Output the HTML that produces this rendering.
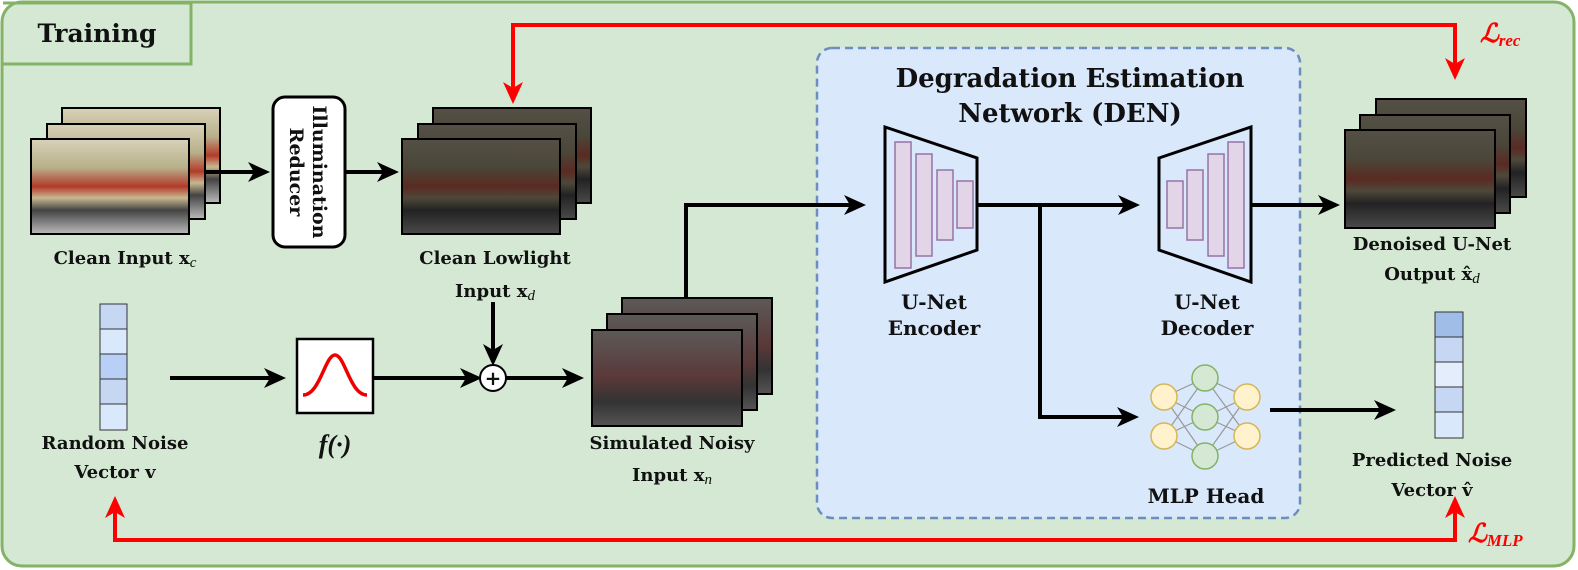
<!DOCTYPE html>
<html><head><meta charset="utf-8"><style>
html,body{margin:0;padding:0;background:#fff;}
svg{display:block}
text{font-family:"DejaVu Serif","Liberation Serif",serif;font-weight:bold;fill:#111;}
.m{font-family:"Liberation Serif",serif;}
</style></head><body>
<svg width="1578" height="570" viewBox="0 0 1578 570" xmlns="http://www.w3.org/2000/svg">
<defs>
<marker id="ab" markerWidth="22" markerHeight="22" refX="18" refY="11" orient="auto" markerUnits="userSpaceOnUse" viewBox="0 0 22 22"><path d="M0,1 L22,11 L0,21 L6,11 Z" fill="#000"/></marker>
<marker id="ar" markerWidth="22" markerHeight="22" refX="18" refY="11" orient="auto" markerUnits="userSpaceOnUse" viewBox="0 0 22 22"><path d="M0,1 L22,11 L0,21 L6,11 Z" fill="#f00"/></marker>
<linearGradient id="img" x1="0" y1="0" x2="0" y2="1">
<stop offset="0" stop-color="#d8d2b8"/><stop offset="0.3" stop-color="#b8b08a"/><stop offset="0.5" stop-color="#b33a2a"/><stop offset="0.62" stop-color="#c8b890"/><stop offset="0.75" stop-color="#444"/><stop offset="1" stop-color="#bbb"/></linearGradient>
<linearGradient id="imgd" x1="0" y1="0" x2="0" y2="1">
<stop offset="0" stop-color="#555046"/><stop offset="0.3" stop-color="#4a4638"/><stop offset="0.5" stop-color="#5a2a22"/><stop offset="0.62" stop-color="#4e483a"/><stop offset="0.75" stop-color="#222"/><stop offset="1" stop-color="#4a4a4a"/></linearGradient>
<linearGradient id="imgn" x1="0" y1="0" x2="0" y2="1">
<stop offset="0" stop-color="#5c5a58"/><stop offset="0.5" stop-color="#5a3838"/><stop offset="0.75" stop-color="#333"/><stop offset="1" stop-color="#555"/></linearGradient>
</defs>
<rect x="2" y="2" width="1572" height="564" rx="20" fill="#d5e8d4" stroke="#82b366" stroke-width="3"/>
<path d="M3,3 H191 V64 H3" fill="none" stroke="#82b366" stroke-width="3"/>
<text x="97" y="42" font-size="25" text-anchor="middle">Training</text>

<rect x="817" y="48" width="483" height="470" rx="15" fill="#dae8fc" stroke="#6c8ebf" stroke-width="2.5" stroke-dasharray="8,5"/>
<text x="1070" y="87" font-size="26" text-anchor="middle">Degradation Estimation</text>
<text x="1070" y="122" font-size="26" text-anchor="middle">Network (DEN)</text>

<g stroke="#000" stroke-width="2">
<rect x="62" y="108" width="158" height="95" fill="url(#img)"/>
<rect x="47" y="124" width="158" height="95" fill="url(#img)"/>
<rect x="31" y="139" width="158" height="95" fill="url(#img)"/>
<rect x="433" y="108" width="158" height="95" fill="url(#imgd)"/>
<rect x="418" y="124" width="158" height="95" fill="url(#imgd)"/>
<rect x="402" y="139" width="158" height="95" fill="url(#imgd)"/>
<rect x="1376" y="99" width="150" height="98" fill="url(#imgd)"/>
<rect x="1360" y="115" width="150" height="98" fill="url(#imgd)"/>
<rect x="1345" y="130" width="150" height="98" fill="url(#imgd)"/>
<rect x="622" y="298" width="150" height="96" fill="url(#imgn)"/>
<rect x="607" y="314" width="150" height="96" fill="url(#imgn)"/>
<rect x="592" y="330" width="150" height="96" fill="url(#imgn)"/>
</g>
<text x="125" y="264" font-size="18" text-anchor="middle">Clean Input x<tspan class="m" font-style="italic" font-weight="normal" font-size="15" dy="3">c</tspan></text>
<text x="495" y="264" font-size="18" text-anchor="middle">Clean Lowlight</text>
<text x="495" y="297" font-size="18" text-anchor="middle">Input x<tspan class="m" font-style="italic" font-weight="normal" font-size="15" dy="3">d</tspan></text>

<rect x="273" y="97" width="72" height="150" rx="12" fill="#fff" stroke="#000" stroke-width="3"/>
<text transform="translate(313,172) rotate(90)" font-size="19" text-anchor="middle">Illumination</text>
<text transform="translate(290,172) rotate(90)" font-size="19" text-anchor="middle">Reducer</text>
<g stroke="#000" stroke-width="4" fill="none" marker-end="url(#ab)">
<line x1="205" y1="172" x2="266" y2="172"/>
<line x1="345" y1="172" x2="395" y2="172"/>
<line x1="493" y1="302" x2="493" y2="362"/>
<line x1="170" y1="378" x2="282" y2="378"/>
<line x1="373" y1="378" x2="478" y2="378"/>
<line x1="506" y1="378" x2="580" y2="378"/>
<polyline points="686,298 686,205 862,205"/>
<line x1="977" y1="205" x2="1136" y2="205"/>
<polyline points="1040,205 1040,417 1135,417"/>
<line x1="1251" y1="205" x2="1336" y2="205"/>
<line x1="1270" y1="410" x2="1392" y2="410"/>
</g>
<g stroke="#333" stroke-width="1">
<rect x="100" y="304" width="27" height="25" fill="#c6d7f3"/>
<rect x="100" y="329" width="27" height="25" fill="#dae8fc"/>
<rect x="100" y="354" width="27" height="25" fill="#b8d0f5"/>
<rect x="100" y="379" width="27" height="25" fill="#c6d7f3"/>
<rect x="100" y="404" width="27" height="26" fill="#dae8fc"/>
<rect x="1435" y="312" width="28" height="25" fill="#9fbde6"/>
<rect x="1435" y="337" width="28" height="25" fill="#c6d7f3"/>
<rect x="1435" y="362" width="28" height="25" fill="#e3edfc"/>
<rect x="1435" y="387" width="28" height="25" fill="#c6d7f3"/>
<rect x="1435" y="412" width="28" height="26" fill="#dae8fc"/>
</g>
<text x="115" y="449" font-size="18" text-anchor="middle">Random Noise</text>
<text x="115" y="478" font-size="18" text-anchor="middle">Vector v</text>
<rect x="297" y="339" width="76" height="74" fill="#fff" stroke="#000" stroke-width="2.5"/>
<path d="M303,395 C320,395 325,355 335,355 C345,355 350,395 367,395" fill="none" stroke="#e00" stroke-width="3.5"/>
<text class="m" x="335" y="453" font-size="26" font-weight="normal" font-style="italic" text-anchor="middle">f(·)</text>
<circle cx="493" cy="378" r="13" fill="#fff" stroke="#000" stroke-width="2"/>
<text x="493" y="385" font-size="20" text-anchor="middle">+</text>
<text x="672" y="449" font-size="18" text-anchor="middle">Simulated Noisy</text>
<text x="672" y="481" font-size="18" text-anchor="middle">Input x<tspan class="m" font-style="italic" font-weight="normal" font-size="15" dy="3">n</tspan></text>

<polygon points="885,127 977,158 977,250 885,282" fill="#dae8fc" stroke="#000" stroke-width="3"/>
<g fill="#e1d5e7" stroke="#9673a6" stroke-width="1.5">
<rect x="895" y="142" width="16" height="126"/>
<rect x="916" y="154" width="16" height="102"/>
<rect x="937" y="170" width="16" height="70"/>
<rect x="957" y="181" width="16" height="47"/>
<rect x="1167" y="181" width="16" height="47"/>
<rect x="1187" y="170" width="16" height="70"/>
<rect x="1208" y="154" width="16" height="102"/>
<rect x="1228" y="142" width="16" height="126"/>
</g>
<polygon points="1159,158 1251,127 1251,282 1159,250" fill="none" stroke="#000" stroke-width="3"/>
<text x="934" y="309" font-size="20" text-anchor="middle">U-Net</text>
<text x="934" y="335" font-size="20" text-anchor="middle">Encoder</text>
<text x="1207" y="309" font-size="20" text-anchor="middle">U-Net</text>
<text x="1207" y="335" font-size="20" text-anchor="middle">Decoder</text>

<g stroke="#999" stroke-width="1.2">
<line x1="1164" y1="397" x2="1205" y2="378"/><line x1="1164" y1="397" x2="1205" y2="417"/><line x1="1164" y1="397" x2="1205" y2="456"/>
<line x1="1164" y1="436" x2="1205" y2="378"/><line x1="1164" y1="436" x2="1205" y2="417"/><line x1="1164" y1="436" x2="1205" y2="456"/>
<line x1="1247" y1="397" x2="1205" y2="378"/><line x1="1247" y1="397" x2="1205" y2="417"/><line x1="1247" y1="397" x2="1205" y2="456"/>
<line x1="1247" y1="436" x2="1205" y2="378"/><line x1="1247" y1="436" x2="1205" y2="417"/><line x1="1247" y1="436" x2="1205" y2="456"/>
</g>
<g stroke-width="1.5">
<circle cx="1164" cy="397" r="13" fill="#fff2cc" stroke="#d6b656"/>
<circle cx="1164" cy="436" r="13" fill="#fff2cc" stroke="#d6b656"/>
<circle cx="1247" cy="397" r="13" fill="#fff2cc" stroke="#d6b656"/>
<circle cx="1247" cy="436" r="13" fill="#fff2cc" stroke="#d6b656"/>
<circle cx="1205" cy="378" r="13" fill="#d5e8d4" stroke="#82b366"/>
<circle cx="1205" cy="417" r="13" fill="#d5e8d4" stroke="#82b366"/>
<circle cx="1205" cy="456" r="13" fill="#d5e8d4" stroke="#82b366"/>
</g>
<text x="1206" y="503" font-size="20" text-anchor="middle">MLP Head</text>

<text x="1432" y="250" font-size="18" text-anchor="middle">Denoised U-Net</text>
<text x="1432" y="280" font-size="18" text-anchor="middle">Output x̂<tspan class="m" font-style="italic" font-weight="normal" font-size="15" dy="3">d</tspan></text>
<text x="1432" y="466" font-size="18" text-anchor="middle">Predicted Noise</text>
<text x="1432" y="496" font-size="18" text-anchor="middle">Vector v̂</text>

<g stroke="#f00" stroke-width="4" fill="none" marker-end="url(#ar)">
<polyline points="1455,25 513,25 513,100"/>
<polyline points="513,25 1455,25 1455,76"/>
<polyline points="1455,540 115,540 115,500"/>
<polyline points="115,540 1455,540 1455,500"/>
</g>
<text class="m" x="1480" y="42" font-size="26" font-weight="normal" font-style="italic" style="fill:#f00">ℒ<tspan font-size="17" dy="4" style="fill:#f00">rec</tspan></text>
<text class="m" x="1468" y="542" font-size="26" font-weight="normal" font-style="italic" style="fill:#f00">ℒ<tspan font-size="17" dy="4" style="fill:#f00">MLP</tspan></text>
</svg>
</body></html>
